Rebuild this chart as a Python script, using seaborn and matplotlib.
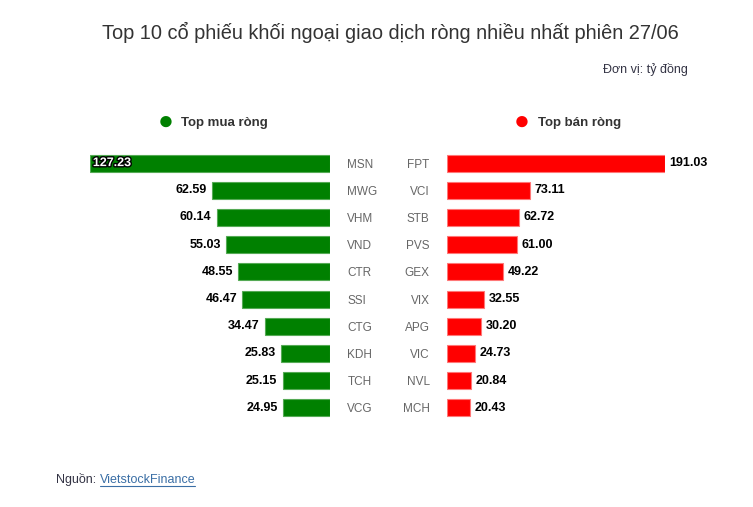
import matplotlib
matplotlib.use("Agg")
import matplotlib.pyplot as plt
import matplotlib.patheffects as pe
import seaborn as sns

# du lieu
mua_ma = ['MSN', 'MWG', 'VHM', 'VND', 'CTR', 'SSI', 'CTG', 'KDH', 'TCH', 'VCG']
mua_gt = [127.23, 62.59, 60.14, 55.03, 48.55, 46.47, 34.47, 25.83, 25.15, 24.95]
ban_ma = ['FPT', 'VCI', 'STB', 'PVS', 'GEX', 'VIX', 'APG', 'VIC', 'NVL', 'MCH']
ban_gt = [191.03, 73.11, 62.72, 61.00, 49.22, 32.55, 30.20, 24.73, 20.84, 20.43]

sns.set_style("white")
plt.rcParams['font.family'] = ['Liberation Sans', 'DejaVu Sans']

W, H = 753, 507
fig = plt.figure(figsize=(W / 100, H / 100), dpi=100)

def px(x0, y0, x1, y1):
    # toa do pixel -> toa do figure
    return [x0 / W, 1 - y1 / H, (x1 - x0) / W, (y1 - y0) / H]

ax_l = fig.add_axes(px(90, 149.5, 330, 421.5))
ax_r = fig.add_axes(px(447, 149.5, 665, 421.5))

sns.barplot(x=mua_gt, y=mua_ma, ax=ax_l, color='#008000', saturation=1,
            width=0.63, edgecolor='#55aa55', linewidth=0.8)
sns.barplot(x=ban_gt, y=ban_ma, ax=ax_r, color='#ff0000', saturation=1,
            width=0.63, edgecolor='#ff7777', linewidth=0.8)

ax_l.set_xlim(mua_gt[0], 0)
ax_r.set_xlim(0, ban_gt[0])

for ax in (ax_l, ax_r):
    ax.set_ylim(9.5, -0.5)
    ax.set_xticks([])
    ax.set_xlabel('')
    ax.set_ylabel('')
    sns.despine(ax=ax, left=True, bottom=True, top=True, right=True)
    ax.tick_params(axis='y', length=0, labelsize=8.5, labelcolor='#666666')

ax_l.yaxis.tick_right()
ax_l.tick_params(axis='y', pad=12.5)
ax_r.tick_params(axis='y', pad=12.5)

# nhan gia tri
for i, v in enumerate(mua_gt):
    if i == 0:
        ax_l.text(v - 1.5, i, f'{v:.2f}', ha='left', va='center', fontsize=9,
                  fontweight='bold', color='white',
                  path_effects=[pe.withStroke(linewidth=2, foreground='black')])
    else:
        ax_l.text(v + 2.8, i, f'{v:.2f}', ha='right', va='center', fontsize=9,
                  fontweight='bold', color='black')
for i, v in enumerate(ban_gt):
    ax_r.text(v + 4, i, f'{v:.2f}', ha='left', va='center', fontsize=9,
              fontweight='bold', color='black', clip_on=False)

# tieu de
fig.text(390 / W, 1 - 32 / H, 'Top 10 cổ phiếu khối ngoại giao dịch ròng nhiều nhất phiên 27/06',
         ha='center', va='center', fontsize=14.4, color='#333333')
fig.text(688 / W, 1 - 70 / H, 'Đơn vị: tỷ đồng', ha='right', va='center',
         fontsize=9, color='#333344')

# chu thich
fig.text(166 / W, 1 - 122 / H, '●', ha='center', va='center', fontsize=19, color='#008000')
fig.text(181 / W, 1 - 123 / H, 'Top mua ròng', ha='left', va='center', fontsize=9.5,
         fontweight='bold', color='#333333')
fig.text(522 / W, 1 - 122 / H, '●', ha='center', va='center', fontsize=19, color='#ff0000')
fig.text(538 / W, 1 - 123 / H, 'Top bán ròng', ha='left', va='center', fontsize=9.5,
         fontweight='bold', color='#333333')

# nguon
t1 = fig.text(56 / W, 1 - 480 / H, 'Nguồn: ', ha='left', va='center', fontsize=9, color='#333344')
fig.canvas.draw()
bb = t1.get_window_extent()
t2 = fig.text(bb.x1 / W, 1 - 480 / H, 'VietstockFinance', ha='left', va='center', fontsize=9,
              color='#3a6ea5')
fig.canvas.draw()
bb2 = t2.get_window_extent()
fig.lines.append(plt.Line2D([bb2.x0 / W, bb2.x1 / W], [1 - 486 / H, 1 - 486 / H],
                            transform=fig.transFigure, color='#3a6ea5', linewidth=0.8))

fig.savefig('out.png', dpi=100, facecolor='white')
